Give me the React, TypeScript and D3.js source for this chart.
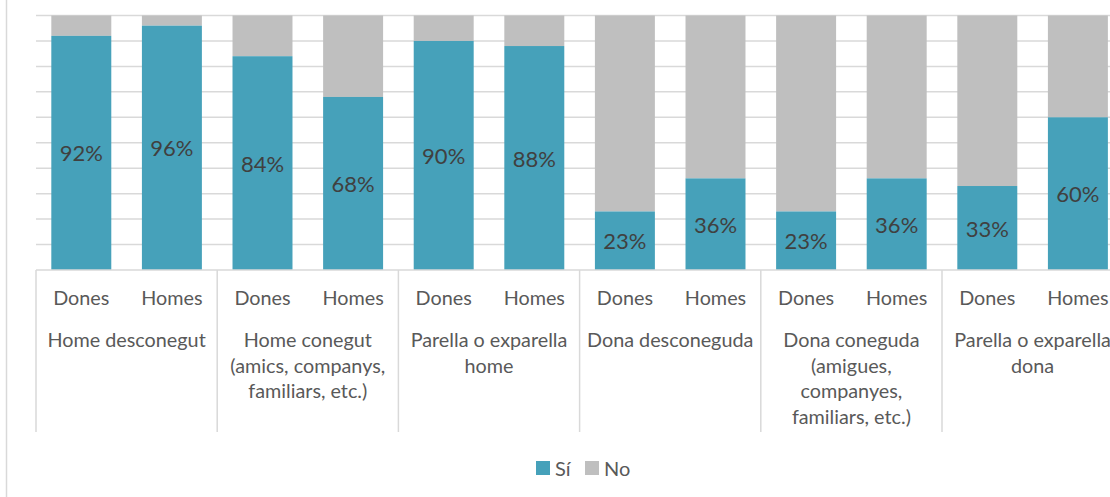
import React from "react";
import * as d3 from "d3";

const categories = ["Dones", "Homes", "Dones", "Homes", "Dones", "Homes", "Dones", "Homes", "Dones", "Homes", "Dones", "Homes"];
const groups = [
  ["Home desconegut"],
  ["Home conegut", "(amics, companys,", "familiars, etc.)"],
  ["Parella o exparella", "home"],
  ["Dona desconeguda"],
  ["Dona coneguda", "(amigues,", "companyes,", "familiars, etc.)"],
  ["Parella o exparella", "dona"],
];
const siValues = [92, 96, 84, 68, 90, 88, 23, 36, 23, 36, 33, 60];
const yTicks = [0, 10, 20, 30, 40, 50, 60, 70, 80, 90, 100];
const legendItems = ["Sí", "No"];

const W = 1110;
const H = 497;
const FONT = "Lato, 'Open Sans', sans-serif";
const TEAL = "#46A1BA";
const GRAY = "#BFBFBF";
const GRID = "#D9D9D9";

export default function App() {
  const left = 36;
  const step = 90.6;
  const x = d3
    .scaleBand<number>()
    .domain(categories.map((_, i) => i))
    .range([left, left + step * categories.length])
    .paddingInner(0.338)
    .paddingOuter(0.169);
  const y = d3.scaleLinear().domain([0, 100]).range([270, 15.5]);
  const bw = x.bandwidth();

  return (
    <div style={{ position: "fixed", left: 0, top: 0, width: W, height: H, background: "#fff" }}>
      <svg width={W} height={H} style={{ display: "block" }} fontFamily={FONT}>
        <rect x={0} y={0} width={W} height={H} fill="#fff" />
        <line x1={6.5} x2={6.5} y1={0} y2={H} stroke={GRID} strokeWidth={1.5} />
        {yTicks.slice(1).map((t) => (
          <line key={t} x1={left} x2={W + 20} y1={y(t)} y2={y(t)} stroke={GRID} strokeWidth={1.5} />
        ))}
        {siValues.map((v, i) => (
          <g key={i}>
            <rect x={x(i)} y={y(100)} width={bw} height={y(v) - y(100)} fill={GRAY} />
            <rect x={x(i)} y={y(v)} width={bw} height={y(0) - y(v)} fill={TEAL} />
            <text
              x={(x(i) as number) + bw / 2}
              y={(y(v) + y(0)) / 2}
              textAnchor="middle"
              dominantBaseline="central"
              fontSize={22}
              fill="#404040"
            >
              {v}%
            </text>
          </g>
        ))}
        <line x1={left} x2={W + 20} y1={y(0)} y2={y(0)} stroke={GRID} strokeWidth={1.5} />
        {groups.map((g, gi) => {
          const x0 = left + gi * 2 * step;
          return (
            <line key={"sep" + gi} x1={x0} x2={x0} y1={y(0)} y2={432} stroke={GRID} strokeWidth={1.5} />
          );
        })}
        {categories.map((c, i) => (
          <text
            key={"c" + i}
            x={(x(i) as number) + bw / 2}
            y={297}
            textAnchor="middle"
            dominantBaseline="central"
            fontSize={19.8}
            fill="#595959"
          >
            {c}
          </text>
        ))}
        {groups.map((g, gi) => {
          const cx = left + gi * 2 * step + step;
          return (
            <text key={"g" + gi} textAnchor="middle" fontSize={19.8} fill="#595959">
              {g.map((line, li) => (
                <tspan key={li} x={cx} y={339 + li * 25.5} dominantBaseline="central">
                  {line}
                </tspan>
              ))}
            </text>
          );
        })}
        {legendItems.map((l, i) => {
          const lx = 536 + i * 49;
          return (
            <g key={l}>
              <rect x={lx} y={461} width={14} height={14} fill={i === 0 ? TEAL : GRAY} />
              <text x={lx + 19} y={468} dominantBaseline="central" fontSize={20} fill="#595959">
                {l}
              </text>
            </g>
          );
        })}
      </svg>
    </div>
  );
}
